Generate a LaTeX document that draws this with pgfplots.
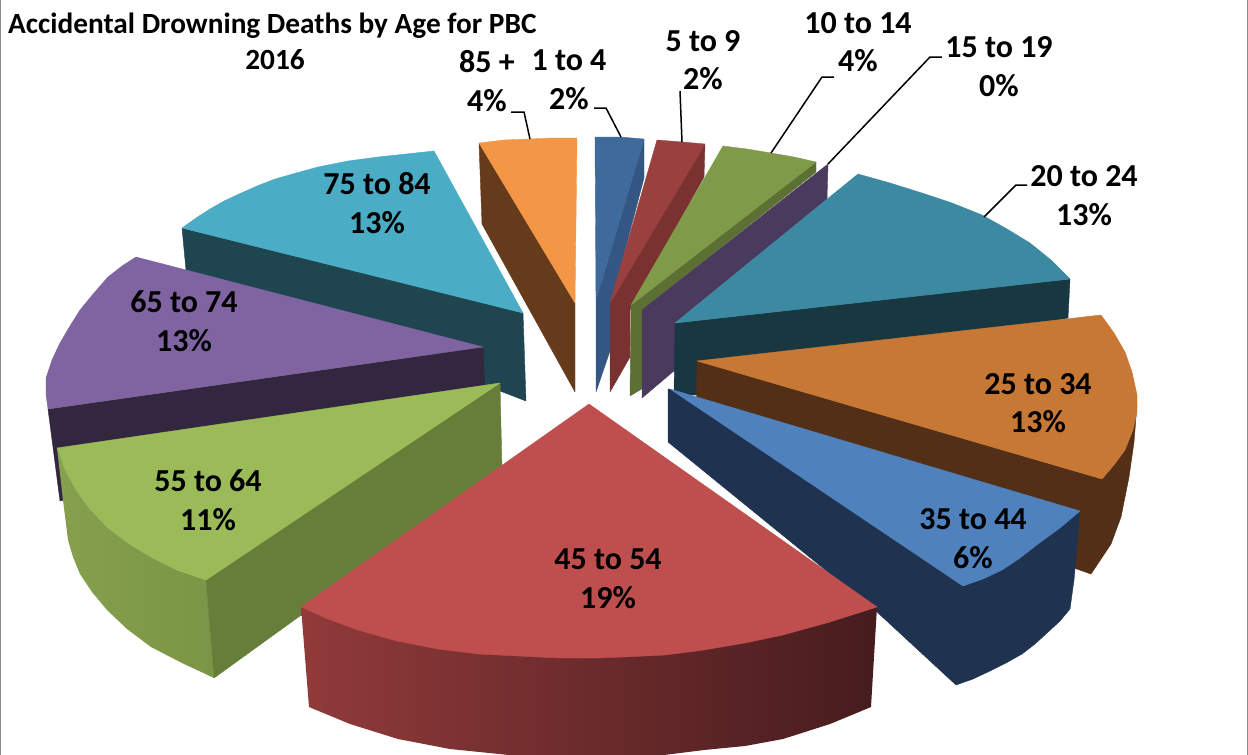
\documentclass[border=0pt]{standalone}
\usepackage{pgfplots}
\pgfplotsset{compat=1.18}
\usepackage{fontspec}
\setmainfont{Carlito}
\definecolor{b1}{HTML}{3F6A9C}\definecolor{b1d}{HTML}{335682}
\definecolor{r1}{HTML}{9A4140}\definecolor{r1d}{HTML}{7A3230}
\definecolor{g1}{HTML}{7F9A48}\definecolor{g1d}{HTML}{5C7033}
\definecolor{p1}{HTML}{4A3A5E}
\definecolor{t1}{HTML}{3C8AA2}\definecolor{t1d}{HTML}{183740}
\definecolor{o1}{HTML}{C77835}\definecolor{o1d}{HTML}{522F16}
\definecolor{b2}{HTML}{4F81BD}\definecolor{b2d}{HTML}{1F3350}
\definecolor{o2}{HTML}{F39645}\definecolor{o2d}{HTML}{663B1B}
\definecolor{t2}{HTML}{4BACC6}\definecolor{t2d}{HTML}{1E4550}
\definecolor{p2}{HTML}{8064A2}\definecolor{p2d}{HTML}{33273F}
\definecolor{g2}{HTML}{9BBB59}\definecolor{g2d}{HTML}{677D3A}
\definecolor{r2}{HTML}{BE4F4E}
\newcommand{\poly}[2]{\addplot[no marks,fill=#1,draw=#1,line width=0.4pt,line join=round] coordinates {#2};}
\newcommand{\lab}[3]{%
 \node[anchor=base,font=\fontsize{32}{38}\selectfont\bfseries,inner sep=0pt] at (axis cs:#1,#2) {#3};}
\newcommand{\leader}[1]{\addplot[no marks,black,line width=1.5pt,line join=miter] coordinates {#1};}
\begin{document}
\begin{tikzpicture}
\begin{axis}[scale only axis,width=1248pt,height=755pt,xmin=0,xmax=1248,ymin=0,ymax=755,y dir=reverse,axis lines=none,clip=true]
% 1 to 4
\poly{b1d}{(644,139)(596,300)(596,392)(612,345)(612,300)(644,178)(644,139)}
\poly{b1}{(595,137)(620,137)(644,139)(596,300)(595,137)}
% 5 to 9
\poly{r1d}{(705,144)(610,303)(610,392)(630,357)(630,310)(704,177)(705,144)}
\poly{r1}{(657,140)(682,142)(705,144)(610,303)(657,140)}
% 10 to 14
\poly{g1d}{(816,162)(631,305)(630,396)(645,387)(642,310)(816,172)(816,162)}
\poly{g1}{(723,146)(747,149)(771,153)(794,157)(816,162)(631,305)(723,146)}
% 15 to 19
\poly{p1}{(828,164)(642,310)(642,398)(675,370)(675,323)(827,199)(828,164)}
% 20 to 24
\poly{t1d}{(675,323)(1070,279)(1068,318)(696,395)(674,395)(675,323)}
\poly{t1}{(675,323)(858,174)(890,183)(922,193)(952,203)(982,215)(1007,229)(1030,243)(1051,260)(1070,279)(675,323)}
% 25 to 34
\poly{o1d}{(697,361)(1102,479)(1137,405)(1134,442)(1129,477)(1121,517)(1111,544)(1091,574)(1074,568)(696,430)(697,361)}
\poly{o1}{(697,361)(1101,315)(1114,333)(1125,352)(1132,372)(1137,395)(1137,412)(1133,430)(1125,450)(1114,465)(1102,479)(697,361)}
% 35 to 44
\poly{b2d}{(670,389)(963,586)(1002,570)(1038,544)(1080,511)(1074,580)(1070,609)(1060,621)(1047,633)(1035,644)(1022,654)(1006,663)(990,671)(973,679)(956,685)(877,612)(668,442)(668,389)(670,389)}
\poly{b2}{(670,389)(1080,511)(1060,528)(1038,544)(1020,558)(1002,570)(983,579)(963,586)(670,389)}
% 85 +
\poly{o2d}{(479,143)(575,303)(575,392)(482,224)(479,143)}
\poly{o2}{(479,143)(504,140)(529,139)(553,138)(577,138)(575,303)(479,143)}
% 75 to 84
\poly{t2d}{(182,228)(523,313)(526,401)(186,270)(182,228)}
\poly{t2}{(523,313)(182,228)(196,218)(210,209)(224,201)(239,194)(257,186)(275,179)(296,173)(318,167)(348,161)(378,157)(406,154)(434,151)(523,313)}
% 65 to 74
\poly{p2d}{(48,409)(483,347)(485,395)(60,501)(48,409)}
\poly{p2}{(483,347)(136,257)(122,266)(108,277)(94,293)(80,310)(70,326)(60,343)(52,360)(46,378)(46,394)(48,409)(483,347)}
% 55 to 64
\addplot[no marks,draw=none,left color={rgb,255:red,134;green,160;blue,78},right color={rgb,255:red,122;green,149;blue,69}] coordinates {(57,448)(65,470)(76,490)(90,509)(107,527)(128,543)(151,557)(177,570)(206,580)(214,678)(182,663)(151,647)(127,629)(107,610)(92,592)(80,574)(73,557)(68,540)(63,500)(57,448)};
\poly{g2d}{(500,383)(206,580)(214,678)(502,470)(500,383)}
\poly{g2}{(500,383)(57,448)(65,470)(76,490)(90,509)(107,527)(128,543)(151,557)(177,570)(206,580)(500,383)}
% 45 to 54
\addplot[no marks,draw=none,left color={rgb,255:red,145;green,58;blue,58},middle color={rgb,255:red,110;green,42;blue,44},right color={rgb,255:red,70;green,28;blue,30}] coordinates {(301,607)(877,607)(871,707)(830,724)(783,739)(745,746)(704,750)(664,755)(640,758)(530,758)(509,755)(450,749)(398,739)(350,724)(309,707)(301,607)};
\poly{r2}{(589,404)(301,607)(328,619)(358,630)(397,641)(438,649)(478,654)(518,656)(558,658)(597,658)(624,657)(665,655)(704,650)(745,643)(783,635)(830,622)(877,607)(589,404)}
% frame
\addplot[no marks,draw={rgb,255:red,140;green,140;blue,140},line width=1.5pt] coordinates {(0.7,0)(0.7,755)};
\addplot[no marks,draw={rgb,255:red,140;green,140;blue,140},line width=1.5pt] coordinates {(1247.3,0)(1247.3,755)};
% leaders
\leader{(511,112)(524,112)(530,139)}
\leader{(594,108)(606,108)(621,137)}
\leader{(680,91)(682,142)}
\leader{(834,77)(822,77)(771,153)}
\leader{(942,57)(930,57)(828,164)}
\leader{(1027,185)(1016,185)(984,217)}
% labels
\node[anchor=base west,font=\fontsize{29.3}{34}\selectfont\bfseries,inner sep=0pt] at (axis cs:8,33) {Accidental Drowning Deaths by Age for PBC};
\node[anchor=base,font=\fontsize{29.3}{34}\selectfont\bfseries,inner sep=0pt] at (axis cs:275,69) {2016};
\lab{487}{72}{85 +}\lab{487}{111}{4\%}
\lab{569}{70}{1 to 4}\lab{569}{109}{2\%}
\lab{703}{51}{5 to 9}\lab{703}{89}{2\%}
\lab{858}{33}{10 to 14}\lab{858}{71}{4\%}
\lab{999}{57}{15 to 19}\lab{999}{96}{0\%}
\lab{1084}{186}{20 to 24}\lab{1084}{225}{13\%}
\lab{1038}{394}{25 to 34}\lab{1038}{432}{13\%}
\lab{973}{529}{35 to 44}\lab{973}{568}{6\%}
\lab{608}{569}{45 to 54}\lab{608}{608}{19\%}
\lab{208}{491}{55 to 64}\lab{208}{530}{11\%}
\lab{184}{312}{65 to 74}\lab{184}{351}{13\%}
\lab{377}{194}{75 to 84}\lab{377}{233}{13\%}
\end{axis}
\end{tikzpicture}
\end{document}
